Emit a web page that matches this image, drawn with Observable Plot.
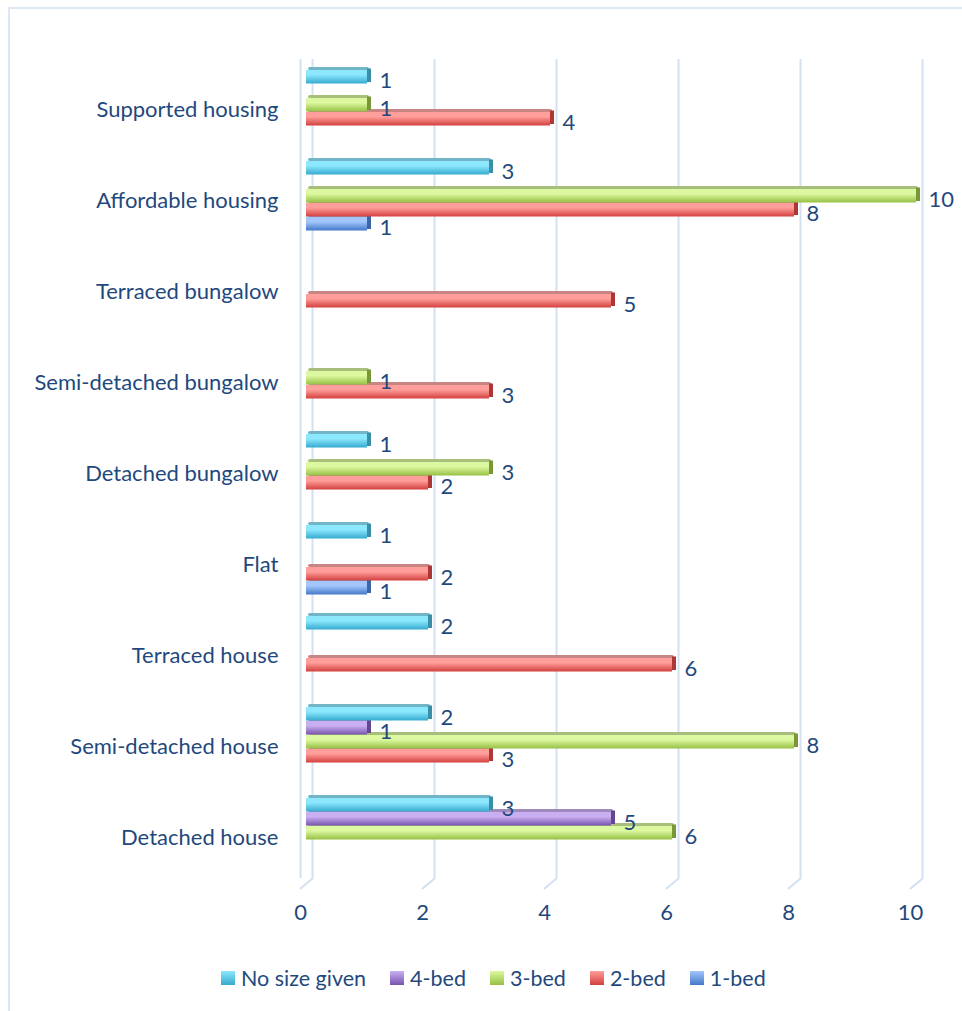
<!DOCTYPE html>
<html>
<head>
<meta charset="utf-8">
<script src="https://cdn.jsdelivr.net/npm/d3@7"></script>
<script src="https://cdn.jsdelivr.net/npm/@observablehq/plot@0.6"></script>
<style>
  html, body { margin: 0; padding: 0; background: #fff; }
  #wrap { position: relative; width: 962px; height: 1011px; overflow: hidden; font-family: Lato, "Open Sans", sans-serif; }
  #frame { position: absolute; left: 8px; top: 7px; width: 960px; height: 1010px; border-left: 2px solid #dce6f4; border-top: 2px solid #dce6f4; box-sizing: border-box; }
  #chart { position: absolute; left: 0; top: 0; }
  #legend { position: absolute; left: 221px; top: 965px; display: flex; align-items: center; font-size: 21.5px; color: #1F497D; white-space: nowrap; }
  .item { display: flex; align-items: center; margin-right: 24px; }
  .sw { width: 14px; height: 14px; margin-right: 6px; }
</style>
</head>
<body>
<div id="wrap">
  <div id="frame"></div>
  <div id="chart"></div>
  <div id="legend"></div>
</div>
<script>
// ---- data ----
const categories = ["Supported housing", "Affordable housing", "Terraced bungalow", "Semi-detached bungalow", "Detached bungalow", "Flat", "Terraced house", "Semi-detached house", "Detached house"];
const seriesNames = ["No size given", "4-bed", "3-bed", "2-bed", "1-bed"]; // top to bottom within a group (legend order)
const noSizeGiven = [1, 3, 0, 0, 1, 1, 2, 2, 3];
const bed4 = [0, 0, 0, 0, 0, 0, 0, 1, 5];
const bed3 = [1, 10, 0, 1, 3, 0, 0, 8, 6];
const bed2 = [4, 8, 5, 3, 2, 2, 6, 3, 0];
const bed1 = [0, 1, 0, 0, 0, 1, 0, 0, 0];
const xTicks = [0, 2, 4, 6, 8, 10];

const seriesValues = {"No size given": noSizeGiven, "4-bed": bed4, "3-bed": bed3, "2-bed": bed2, "1-bed": bed1};
const data = [];
categories.forEach((c, i) => seriesNames.forEach(s => {
  const v = seriesValues[s][i];
  if (v) data.push({category: c, series: s, value: v});
}));

// ---- styles ----
const palette = {
  "No size given": {top: "#72b5c6", light: "#8ce8fc", dark: "#35aad0", cap: "#3a8fa8", id: "g0"},
  "4-bed":         {top: "#9f8bbb", light: "#c9aff2", dark: "#7854ad", cap: "#634790", id: "g1"},
  "3-bed":         {top: "#a8bf7c", light: "#dcf8a0", dark: "#97c044", cap: "#789838", id: "g2"},
  "2-bed":         {top: "#c88583", light: "#ff9e9b", dark: "#d2403d", cap: "#ad3734", id: "g3"},
  "1-bed":         {top: "#82a2cd", light: "#a3c6fc", dark: "#4479c8", cap: "#3b65a6", id: "g4"}
};
const textColor = "#1F497D";
const grid = "#d3e0f1";
const lineShape = {draw(context, l) { context.moveTo(0, 0); context.lineTo(0, -l); }};
const drawOrder = seriesNames.slice().reverse(); // lower bars first so upper bars cover their top faces

const chart = Plot.plot({
  width: 962,
  height: 940,
  marginLeft: 306,
  marginRight: 46,
  marginTop: 56,
  marginBottom: 60,
  style: {fontFamily: "Lato, 'Open Sans', sans-serif", fontSize: "22px", color: textColor, background: "transparent"},
  x: {domain: [0, 10], axis: null},
  y: {domain: seriesNames, axis: null, paddingInner: 0.0, paddingOuter: 0.7},
  fy: {domain: categories, axis: null, padding: 0},
  marks: [
    Plot.ruleX(xTicks, {x: d => d, dx: 6, stroke: grid, strokeWidth: 2}),
    Plot.ruleX([0], {x: d => d, dx: -6, stroke: grid, strokeWidth: 2}),
    Plot.vector(xTicks, {x: d => d, fy: () => categories[categories.length - 1], frameAnchor: "bottom", dx: 6, rotate: 230, length: 15.6, anchor: "start", stroke: grid, strokeWidth: 2, shape: lineShape}),
    ...drawOrder.flatMap(s => {
      const rows = data.filter(d => d.series === s);
      const p = palette[s];
      return [
        // top face
        Plot.barX(rows, {x: "value", y: "series", fy: "category", insetBottom: 11, dy: -3, dx: 2, rx: 2, fill: p.top}),
        // right end face
        Plot.barX(rows, {x1: "value", x2: "value", insetRight: -4, insetBottom: 0.5, dy: -1.5, y: "series", fy: "category", fill: p.cap}),
        // front face
        Plot.barX(rows, {x: "value", y: "series", fy: "category", insetBottom: 0.5, fill: `url(#${p.id})`})
      ];
    }),
    Plot.text(data, {x: "value", y: "series", fy: "category", text: d => String(d.value), dx: 12, dy: 3, textAnchor: "start", fill: textColor}),
    Plot.text(categories, {fy: d => d, text: d => d, frameAnchor: "left", dx: -28, dy: 5, textAnchor: "end", fill: textColor}),
    Plot.axisX(xTicks, {tickSize: 0, tickPadding: 26, dx: -6, fill: textColor, label: null})
  ]
});

// gradients
const defs = d3.select(chart).insert("defs", ":first-child");
for (const s of seriesNames) {
  const p = palette[s];
  const g = defs.append("linearGradient").attr("id", p.id).attr("x1", 0).attr("y1", 0).attr("x2", 0).attr("y2", 1);
  g.append("stop").attr("offset", "0%").attr("stop-color", p.light);
  g.append("stop").attr("offset", "35%").attr("stop-color", p.light);
  g.append("stop").attr("offset", "100%").attr("stop-color", p.dark);
}
document.getElementById("chart").appendChild(chart);

// legend
const legend = document.getElementById("legend");
for (const s of seriesNames) {
  const p = palette[s];
  const item = document.createElement("div");
  item.className = "item";
  const sw = document.createElement("div");
  sw.className = "sw";
  sw.style.background = `linear-gradient(${p.light}, ${p.dark})`;
  const t = document.createElement("span");
  t.textContent = s;
  item.appendChild(sw);
  item.appendChild(t);
  legend.appendChild(item);
}
</script>
</body>
</html>
